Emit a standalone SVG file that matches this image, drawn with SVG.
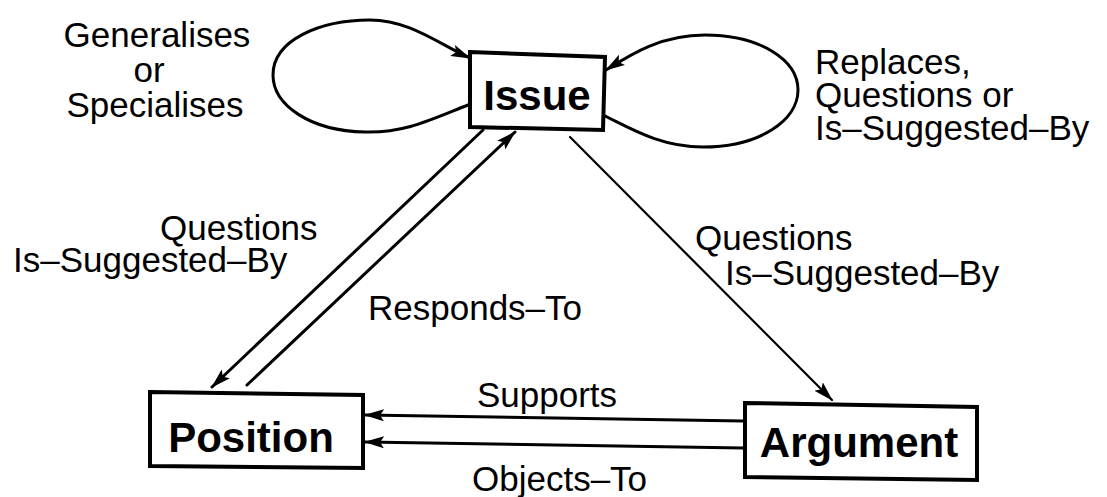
<svg xmlns="http://www.w3.org/2000/svg" width="1107" height="497" viewBox="0 0 1107 497">
  <style>
    .box { fill: #fff; stroke: #000; stroke-width: 4; stroke-linejoin: miter; }
    .name { font-family: "Liberation Sans", Arial, sans-serif; font-weight: bold; font-size: 42px; fill: #000; }
    .lbl { font-family: "Liberation Sans", Arial, sans-serif; font-size: 35px; fill: #000; }
    .edge { fill: none; stroke: #000; stroke-width: 3; stroke-linecap: round; }
    .thin { stroke-width: 2.2; }
  </style>
  <defs>
    <marker id="head" markerUnits="userSpaceOnUse" markerWidth="20" markerHeight="14" refX="19" refY="6" orient="auto">
      <path d="M0,0 L20,6 L0,12 L4,6 z" fill="#000"/>
    </marker>
  </defs>
  <rect width="1107" height="497" fill="#fff"/>

  <!-- connectors -->
  <g id="connectors">
    <!-- self loops on Issue -->
    <path class="edge" d="M468,105 C430,120 405,133 365,132 C310,131 273,105 273,75 C273,40 320,20 370,20 C410,20 440,45 470,58" marker-end="url(#head)"/>
    <path class="edge" d="M603,115 C630,128 660,147 703,147 C760,147 798,120 798,90 C798,60 760,35 705,35 C660,35 630,55 606,70" marker-end="url(#head)"/>
    <!-- Issue to Position -->
    <path class="edge" d="M483,130 L212,387" marker-end="url(#head)"/>
    <!-- Position to Issue -->
    <path class="edge" d="M247,385 L515,132" marker-end="url(#head)"/>
    <!-- Issue to Argument -->
    <path class="edge thin" d="M570,137 L832,400" marker-end="url(#head)"/>
    <!-- Argument to Position -->
    <path class="edge" d="M743,421 L365,415" marker-end="url(#head)"/>
    <path class="edge" d="M743,448 L365,442" marker-end="url(#head)"/>

    <text class="lbl" x="157" y="47" text-anchor="middle">Generalises</text>
    <text class="lbl" x="149" y="82" text-anchor="middle">or</text>
    <text class="lbl" x="155" y="117" text-anchor="middle">Specialises</text>

    <text class="lbl" x="815" y="74">Replaces,</text>
    <text class="lbl" x="815" y="107">Questions or</text>
    <text class="lbl" x="815" y="140">Is–Suggested–By</text>

    <text class="lbl" x="160" y="240">Questions</text>
    <text class="lbl" x="13" y="272">Is–Suggested–By</text>
    <text class="lbl" x="368" y="320">Responds–To</text>

    <text class="lbl" x="695" y="250">Questions</text>
    <text class="lbl" x="725" y="285">Is–Suggested–By</text>

    <text class="lbl" x="477" y="407">Supports</text>
    <text class="lbl" x="472" y="491">Objects–To</text>
  </g>

  <!-- nodes -->
  <g id="issue">
    <polygon class="box" points="470,52 605,57 603,130 470,127"/>
    <text class="name" x="537" y="110" text-anchor="middle">Issue</text>
  </g>
  <g id="position">
    <polygon class="box" points="150,392 363,395 363,468 150,466"/>
    <text class="name" x="251" y="452" text-anchor="middle">Position</text>
  </g>
  <g id="argument">
    <polygon class="box" points="745,403 977,407 977,480 745,477"/>
    <text class="name" x="859" y="457" text-anchor="middle">Argument</text>
  </g>
</svg>
